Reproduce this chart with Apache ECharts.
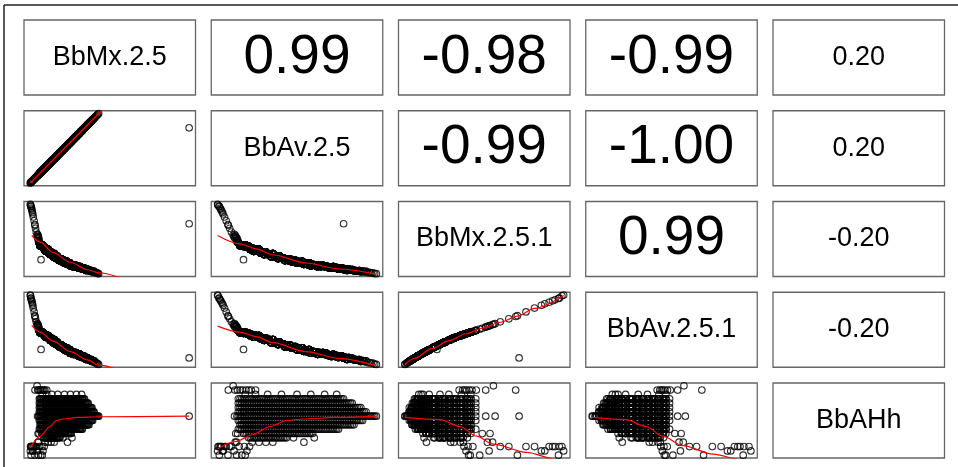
<!DOCTYPE html>
<html><head><meta charset="utf-8">
<script src="https://cdn.jsdelivr.net/npm/echarts@6/dist/echarts.min.js"></script>
<style>html,body{margin:0;padding:0;background:#fff}#c{width:958px;height:467px}</style>
</head><body><div id="c"></div>
<script>
// ---- data (arbitrary units) ----
const varNames = ['BbMx.2.5','BbAv.2.5','BbMx.2.5.1','BbAv.2.5.1','BbAHh'];
const corrKeys  = ['0,1','0,2','0,3','0,4','1,2','1,3','1,4','2,3','2,4','3,4'];
const corrTexts = ['0.99','-0.98','-0.99','0.20','-0.99','-1.00','0.20','0.99','-0.20','-0.20'];

const bbMx25 = [
9.6,10.5,11.3,12.2,13.0,13.9,14.8,15.6,16.5,17.3, 18.2,19.1,19.9,20.8,21.6,22.5,23.4,24.2,25.1,25.9, 26.8,27.7,28.5,29.4,30.2,31.1,32.0,32.8,33.7,34.5, 35.4,
9.2,10.0,10.9,11.7,12.6,13.5,14.3,15.2,16.0,16.9, 17.8,18.6,19.5,20.3,21.2,22.1,22.9,23.8,24.6,25.5, 26.4,27.2,28.1,28.9,29.8,30.7,31.5,32.4,33.2,34.1, 35.0,35.8,36.7,37.5,
9.6,10.5,11.3,12.2,13.0,13.9,14.8,15.6,16.5,17.3, 18.2,19.1,19.9,20.8,21.6,22.5,23.4,24.2,25.1,25.9, 26.8,27.7,28.5,29.4,30.2,31.1,32.0,32.8,33.7,34.5, 35.4,36.3,37.1,38.0,38.8,39.7,
9.2,10.0,10.9,11.7,12.6,13.5,14.3,15.2,16.0,16.9, 17.8,18.6,19.5,20.3,21.2,22.1,22.9,23.8,24.6,25.5, 26.4,27.2,28.1,28.9,29.8,30.7,31.5,32.4,33.2,34.1, 35.0,35.8,36.7,37.5,38.4,39.3,40.1,41.0,
9.6,10.5,11.3,12.2,13.0,13.9,14.8,15.6,16.5,17.3, 18.2,19.1,19.9,20.8,21.6,22.5,23.4,24.2,25.1,25.9, 26.8,27.7,28.5,29.4,30.2,31.1,32.0,32.8,33.7,34.5, 35.4,36.3,37.1,38.0,38.8,39.7,40.6,41.4,42.3,43.1, 43.6,
9.2,10.0,10.9,11.7,12.6,13.5,14.3,15.2,16.0,16.9, 17.8,18.6,19.5,20.3,21.2,22.1,22.9,23.8,24.6,25.5, 26.4,27.2,28.1,28.9,29.8,30.7,31.5,32.4,33.2,34.1, 35.0,35.8,36.7,37.5,38.4,39.3,40.1,
9.6,10.5,11.3,12.2,13.0,13.9,14.8,15.6,16.5,17.3, 18.2,19.1,19.9,20.8,21.6,22.5,23.4,24.2,25.1,25.9, 26.8,27.7,28.5,29.4,30.2,31.1,32.0,32.8,33.7,34.5, 35.4,36.3,37.1,38.0,
9.2,10.0,10.9,11.7,12.6,13.5,14.3,15.2,16.0,16.9, 17.8,18.6,19.5,20.3,21.2,22.1,22.9,23.8,24.6,25.5, 26.4,27.2,28.1,28.9,29.8,30.7,31.5,32.4,33.2,34.1,
10.5,11.3,12.2,13.0,13.9,14.8,15.6,16.5,17.3, 18.2,19.1,19.9,20.8,21.6,22.5,23.4,24.2,25.1,25.9, 26.8,27.7,
11.7,12.6,13.5,14.3,15.2,16.0,16.9, 17.8,18.6,19.5,20.3,21.2, 22.9,28.1,
12.6,14.3,16.0,17.8,25.5,
10.9,13.5,16.5,19.9,23.8,27.2,30.7,33.7,
6.7,7.9,8.3,8.9,9.6,10.2,11.1,11.7,12.4,13.5,
4.1,4.4,4.6,5.0,5.4,5.7,6.2,6.6,7.4,8.1,8.7,9.4,10.0,10.7,11.3,12.0,10.9,
4.0,4.3,4.8,5.2,7.0,
8.2,8.8,8.5,9.0,8.4,8.7,
96,10.2,
9.2,10.0,10.9,11.7,12.6,13.5,14.3,15.2,16.0,16.9, 17.8,18.6,19.5,20.3,21.2,22.1,22.9,23.8,24.6,25.5, 26.4,27.2,28.1,28.9,29.8,30.7,31.5,32.4,33.2,34.1, 35.0,
9.6,10.5,11.3,12.2,13.0,13.9,14.8,15.6,16.5,17.3, 18.2,19.1,19.9,20.8,21.6,22.5,23.4,24.2,25.1,25.9, 26.8,27.7,28.5,29.4,30.2,31.1,32.0,32.8,33.7,34.5, 35.4,36.3,37.1,
9.2,10.0,10.9,11.7,12.6,13.5,14.3,15.2,16.0,16.9, 17.8,18.6,19.5,20.3,21.2,22.1,22.9,23.8,24.6,25.5, 26.4,27.2,28.1,28.9,29.8,30.7,31.5,32.4,33.2,34.1, 35.0,35.8,36.7,37.5,38.4,39.3,
9.6,10.5,11.3,12.2,13.0,13.9,14.8,15.6,16.5,17.3, 18.2,19.1,19.9,20.8,21.6,22.5,23.4,24.2,25.1,25.9, 26.8,27.7,28.5,29.4,30.2,31.1,32.0,32.8,33.7,34.5, 35.4,36.3,37.1,38.0,38.8,39.7,40.6,
9.2,10.0,10.9,11.7,12.6,13.5,14.3,15.2,16.0,16.9, 17.8,18.6,19.5,20.3,21.2,22.1,22.9,23.8,24.6,25.5, 26.4,27.2,28.1,28.9,29.8,30.7,31.5,32.4,33.2,34.1, 35.0,35.8,36.7,37.5,38.4,39.3,40.1,41.0,41.8,42.7,
9.6,10.5,11.3,12.2,13.0,13.9,14.8,15.6,16.5,17.3, 18.2,19.1,19.9,20.8,21.6,22.5,23.4,24.2,25.1,25.9, 26.8,27.7,28.5,29.4,30.2,31.1,32.0,32.8,33.7,34.5, 35.4,36.3,37.1,38.0,38.8,39.7,
10.0,10.9,11.7,12.6,13.5,14.3,15.2,16.0,16.9, 17.8,18.6,19.5,20.3,21.2,22.1,22.9,23.8,24.6,25.5, 26.4,27.2,28.1,28.9,29.8,30.7,31.5,32.4,33.2,34.1, 35.0,35.8,36.7,37.5,
9.6,10.5,11.3,12.2,13.0,13.9,14.8,15.6,16.5,17.3, 18.2,19.1,19.9,20.8,21.6,22.5,23.4,24.2,25.1,25.9, 26.8,27.7,28.5,29.4,30.2,31.1,32.0,32.8,33.7,
10.9,11.7,12.6,13.5,14.3,15.2,16.0,16.9, 17.8,18.6,19.5,20.3,21.2,22.1,22.9,23.8,24.6,25.5, 26.4,27.2,
12.2,13.0,13.9,14.8,15.6,16.5,17.3, 18.2,19.1,19.9,20.8];

const bbAv25 = [
17,19,21,23,25,27,29,31,33,35, 37,39,41,43,45,47,49,51,53,55, 57,59,61,63,65,67,69,71,73,75, 77,
16,18,20,22,24,26,28,30,32,34, 36,38,40,42,44,46,48,50,52,54, 56,58,60,62,64,66,68,70,72,74, 76,78,80,82,
17,19,21,23,25,27,29,31,33,35, 37,39,41,43,45,47,49,51,53,55, 57,59,61,63,65,67,69,71,73,75, 77,79,81,83,85,87,
16,18,20,22,24,26,28,30,32,34, 36,38,40,42,44,46,48,50,52,54, 56,58,60,62,64,66,68,70,72,74, 76,78,80,82,84,86,88,90,
17,19,21,23,25,27,29,31,33,35, 37,39,41,43,45,47,49,51,53,55, 57,59,61,63,65,67,69,71,73,75, 77,79,81,83,85,87,89,91,93,95, 96,
16,18,20,22,24,26,28,30,32,34, 36,38,40,42,44,46,48,50,52,54, 56,58,60,62,64,66,68,70,72,74, 76,78,80,82,84,86,88,
17,19,21,23,25,27,29,31,33,35, 37,39,41,43,45,47,49,51,53,55, 57,59,61,63,65,67,69,71,73,75, 77,79,81,83,
16,18,20,22,24,26,28,30,32,34, 36,38,40,42,44,46,48,50,52,54, 56,58,60,62,64,66,68,70,72,74,
19,21,23,25,27,29,31,33,35, 37,39,41,43,45,47,49,51,53,55, 57,59,
22,24,26,28,30,32,34, 36,38,40,42,44, 48,60,
24,28,32,36,54,
20,26,33,41,50,58,66,73,
10.2,13.0,14.0,15.5,17.0,18.5,20.5,22.0,23.5,26.0,
4.2,5.0,5.5,6.3,7.2,8.0,9.0,10.0,12.0,13.5,15.0,16.5,18.0,19.5,21.0,22.5,20.0,
4.0,4.8,5.8,6.8,11.0,
13.8,15.2,14.5,15.6,14.2,15.0,
77,19,
16,18,20,22,24,26,28,30,32,34, 36,38,40,42,44,46,48,50,52,54, 56,58,60,62,64,66,68,70,72,74, 76,
17,19,21,23,25,27,29,31,33,35, 37,39,41,43,45,47,49,51,53,55, 57,59,61,63,65,67,69,71,73,75, 77,79,81,
16,18,20,22,24,26,28,30,32,34, 36,38,40,42,44,46,48,50,52,54, 56,58,60,62,64,66,68,70,72,74, 76,78,80,82,84,86,
17,19,21,23,25,27,29,31,33,35, 37,39,41,43,45,47,49,51,53,55, 57,59,61,63,65,67,69,71,73,75, 77,79,81,83,85,87,89,
16,18,20,22,24,26,28,30,32,34, 36,38,40,42,44,46,48,50,52,54, 56,58,60,62,64,66,68,70,72,74, 76,78,80,82,84,86,88,90,92,94,
17,19,21,23,25,27,29,31,33,35, 37,39,41,43,45,47,49,51,53,55, 57,59,61,63,65,67,69,71,73,75, 77,79,81,83,85,87,
18,20,22,24,26,28,30,32,34, 36,38,40,42,44,46,48,50,52,54, 56,58,60,62,64,66,68,70,72,74, 76,78,80,82,
17,19,21,23,25,27,29,31,33,35, 37,39,41,43,45,47,49,51,53,55, 57,59,61,63,65,67,69,71,73,
20,22,24,26,28,30,32,34, 36,38,40,42,44,46,48,50,52,54, 56,58,
23,25,27,29,31,33,35, 37,39,41,43];

const bbMx251 = [
41.7,40.8,39.8,36.6,34.2,34.4,32.0,29.9,30.0,26.8, 26.4,24.5,24.8,21.8,21.8,20.4,22.0,20.4,20.7,18.3, 18.7,16.9,16.3,15.5,15.5,14.6,13.3,13.8,12.4,11.3, 9.9,
45.7,42.9,42.8,40.8,38.4,37.3,36.7,33.1,33.0,30.8, 31.0,27.5,27.7,25.4,23.8,23.9,21.1,18.5,18.5,16.9, 16.5,14.9,15.5,13.7,13.9,13.8,12.5,11.6,11.7,10.5, 12.0,10.7,10.5,9.7,
41.7,40.8,39.8,36.6,34.2,34.4,32.0,29.9,30.0,26.8, 26.4,24.5,24.8,21.8,21.8,20.4,22.0,20.4,20.7,18.3, 18.7,16.9,16.3,15.5,15.5,14.6,13.3,13.8,12.4,11.3, 9.9,8.7,9.3,8.4,7.9,6.9,
45.7,42.9,42.8,40.8,38.4,37.3,36.7,33.1,33.0,30.8, 31.0,27.5,27.7,25.4,23.8,23.9,21.1,18.5,18.5,16.9, 16.5,14.9,15.5,13.7,13.9,13.8,12.5,11.6,11.7,10.5, 12.0,10.7,10.5,9.7,8.5,8.4,7.7,7.3,
41.7,40.8,39.8,36.6,34.2,34.4,32.0,29.9,30.0,26.8, 26.4,24.5,24.8,21.8,21.8,20.4,22.0,20.4,20.7,18.3, 18.7,16.9,16.3,15.5,15.5,14.6,13.3,13.8,12.4,11.3, 9.9,8.7,9.3,8.4,7.9,6.9,6.8,5.8,5.4,4.5, 4.3,
45.7,42.9,42.8,40.8,38.4,37.3,36.7,33.1,33.0,30.8, 31.0,27.5,27.7,25.4,23.8,23.9,21.1,18.5,18.5,16.9, 16.5,14.9,15.5,13.7,13.9,13.8,12.5,11.6,11.7,10.5, 12.0,10.7,10.5,9.7,8.5,8.4,7.7,
41.7,40.8,39.8,36.6,34.2,34.4,32.0,29.9,30.0,26.8, 26.4,24.5,24.8,21.8,21.8,20.4,22.0,20.4,20.7,18.3, 18.7,16.9,16.3,15.5,15.5,14.6,13.3,13.8,12.4,11.3, 9.9,8.7,9.3,8.4,
45.7,42.9,42.8,40.8,38.4,37.3,36.7,33.1,33.0,30.8, 31.0,27.5,27.7,25.4,23.8,23.9,21.1,18.5,18.5,16.9, 16.5,14.9,15.5,13.7,13.9,13.8,12.5,11.6,11.7,10.5,
40.8,39.8,36.6,34.2,34.4,32.0,29.9,30.0,26.8, 26.4,24.5,24.8,21.8,21.8,20.4,22.0,20.4,20.7,18.3, 18.7,16.9,
40.8,38.4,37.3,36.7,33.1,33.0,30.8, 31.0,27.5,27.7,25.4,23.8, 21.1,15.5,
38.4,36.7,33.0,31.0,16.9,
42.8,37.3,30.0,24.8,18.5,14.9,13.8,12.4,
69,56,51.5,46,43.5,42,40.4,39.2,38,36,
96,94,92,88.5,84,80,75,70,60,53.5,48,44,42.5,41.2,40.0,38.8,41.5,
97,94.5,90.5,86,65,
57,51.5,54,49.5,55.5,52.5,
71,23,
45.7,42.9,42.8,40.8,38.4,37.3,36.7,33.1,33.0,30.8, 31.0,27.5,27.7,25.4,23.8,23.9,21.1,18.5,18.5,16.9, 16.5,14.9,15.5,13.7,13.9,13.8,12.5,11.6,11.7,10.5, 12.0,
41.7,40.8,39.8,36.6,34.2,34.4,32.0,29.9,30.0,26.8, 26.4,24.5,24.8,21.8,21.8,20.4,22.0,20.4,20.7,18.3, 18.7,16.9,16.3,15.5,15.5,14.6,13.3,13.8,12.4,11.3, 9.9,8.7,9.3,
45.7,42.9,42.8,40.8,38.4,37.3,36.7,33.1,33.0,30.8, 31.0,27.5,27.7,25.4,23.8,23.9,21.1,18.5,18.5,16.9, 16.5,14.9,15.5,13.7,13.9,13.8,12.5,11.6,11.7,10.5, 12.0,10.7,10.5,9.7,8.5,8.4,
41.7,40.8,39.8,36.6,34.2,34.4,32.0,29.9,30.0,26.8, 26.4,24.5,24.8,21.8,21.8,20.4,22.0,20.4,20.7,18.3, 18.7,16.9,16.3,15.5,15.5,14.6,13.3,13.8,12.4,11.3, 9.9,8.7,9.3,8.4,7.9,6.9,6.8,
45.7,42.9,42.8,40.8,38.4,37.3,36.7,33.1,33.0,30.8, 31.0,27.5,27.7,25.4,23.8,23.9,21.1,18.5,18.5,16.9, 16.5,14.9,15.5,13.7,13.9,13.8,12.5,11.6,11.7,10.5, 12.0,10.7,10.5,9.7,8.5,8.4,7.7,7.3,6.0,5.5,
41.7,40.8,39.8,36.6,34.2,34.4,32.0,29.9,30.0,26.8, 26.4,24.5,24.8,21.8,21.8,20.4,22.0,20.4,20.7,18.3, 18.7,16.9,16.3,15.5,15.5,14.6,13.3,13.8,12.4,11.3, 9.9,8.7,9.3,8.4,7.9,6.9,
42.9,42.8,40.8,38.4,37.3,36.7,33.1,33.0,30.8, 31.0,27.5,27.7,25.4,23.8,23.9,21.1,18.5,18.5,16.9, 16.5,14.9,15.5,13.7,13.9,13.8,12.5,11.6,11.7,10.5, 12.0,10.7,10.5,9.7,
41.7,40.8,39.8,36.6,34.2,34.4,32.0,29.9,30.0,26.8, 26.4,24.5,24.8,21.8,21.8,20.4,22.0,20.4,20.7,18.3, 18.7,16.9,16.3,15.5,15.5,14.6,13.3,13.8,12.4,
42.8,40.8,38.4,37.3,36.7,33.1,33.0,30.8, 31.0,27.5,27.7,25.4,23.8,23.9,21.1,18.5,18.5,16.9, 16.5,14.9,
36.6,34.2,34.4,32.0,29.9,30.0,26.8, 26.4,24.5,24.8,21.8];

const bbAv251 = [
47.8,47.1,46.4,43.9,42.0,42.1,40.0,37.9,38.0,34.8, 34.4,32.4,32.7,29.4,29.4,27.8,29.6,27.8,28.1,25.3, 25.7,23.6,22.9,21.9,21.9,20.8,19.1,19.7,17.9,16.5, 14.7,
50.6,48.6,48.5,47.1,45.3,44.5,44.0,41.0,40.9,38.8, 39.0,35.5,35.7,33.3,31.6,31.7,28.6,25.5,25.5,23.6, 23.1,21.2,21.9,19.6,19.9,19.7,18.1,16.9,17.0,15.5, 17.4,15.7,15.5,14.4,
47.8,47.1,46.4,43.9,42.0,42.1,40.0,37.9,38.0,34.8, 34.4,32.4,32.7,29.4,29.4,27.8,29.6,27.8,28.1,25.3, 25.7,23.6,22.9,21.9,21.9,20.8,19.1,19.7,17.9,16.5, 14.7,13.0,13.8,12.6,11.9,10.4,
50.6,48.6,48.5,47.1,45.3,44.5,44.0,41.0,40.9,38.8, 39.0,35.5,35.7,33.3,31.6,31.7,28.6,25.5,25.5,23.6, 23.1,21.2,21.9,19.6,19.9,19.7,18.1,16.9,17.0,15.5, 17.4,15.7,15.5,14.4,12.7,12.6,11.6,11.0,
47.8,47.1,46.4,43.9,42.0,42.1,40.0,37.9,38.0,34.8, 34.4,32.4,32.7,29.4,29.4,27.8,29.6,27.8,28.1,25.3, 25.7,23.6,22.9,21.9,21.9,20.8,19.1,19.7,17.9,16.5, 14.7,13.0,13.8,12.6,11.9,10.4,10.2,8.7,8.1,6.8, 6.4,
50.6,48.6,48.5,47.1,45.3,44.5,44.0,41.0,40.9,38.8, 39.0,35.5,35.7,33.3,31.6,31.7,28.6,25.5,25.5,23.6, 23.1,21.2,21.9,19.6,19.9,19.7,18.1,16.9,17.0,15.5, 17.4,15.7,15.5,14.4,12.7,12.6,11.6,
47.8,47.1,46.4,43.9,42.0,42.1,40.0,37.9,38.0,34.8, 34.4,32.4,32.7,29.4,29.4,27.8,29.6,27.8,28.1,25.3, 25.7,23.6,22.9,21.9,21.9,20.8,19.1,19.7,17.9,16.5, 14.7,13.0,13.8,12.6,
50.6,48.6,48.5,47.1,45.3,44.5,44.0,41.0,40.9,38.8, 39.0,35.5,35.7,33.3,31.6,31.7,28.6,25.5,25.5,23.6, 23.1,21.2,21.9,19.6,19.9,19.7,18.1,16.9,17.0,15.5,
47.1,46.4,43.9,42.0,42.1,40.0,37.9,38.0,34.8, 34.4,32.4,32.7,29.4,29.4,27.8,29.6,27.8,28.1,25.3, 25.7,23.6,
47.1,45.3,44.5,44.0,41.0,40.9,38.8, 39.0,35.5,35.7,33.3,31.6, 28.6,21.9,
45.3,44.0,40.9,39.0,23.6,
48.5,44.5,38.0,32.7,25.5,21.2,19.7,17.9,
69,58.8,55.2,51,49.4,48,46.8,45.9,45,43.5,
95.9,92.6,90.8,87.6,83.6,80,75,70,62,56.8,52.5,49.3,48.4,47.4,46.5,45.6,47.6,
97,93,89.5,85.5,66,
59.6,55.2,57.2,53.6,58.4,56.0,
15,26,
50.6,48.6,48.5,47.1,45.3,44.5,44.0,41.0,40.9,38.8, 39.0,35.5,35.7,33.3,31.6,31.7,28.6,25.5,25.5,23.6, 23.1,21.2,21.9,19.6,19.9,19.7,18.1,16.9,17.0,15.5, 17.4,
47.8,47.1,46.4,43.9,42.0,42.1,40.0,37.9,38.0,34.8, 34.4,32.4,32.7,29.4,29.4,27.8,29.6,27.8,28.1,25.3, 25.7,23.6,22.9,21.9,21.9,20.8,19.1,19.7,17.9,16.5, 14.7,13.0,13.8,
50.6,48.6,48.5,47.1,45.3,44.5,44.0,41.0,40.9,38.8, 39.0,35.5,35.7,33.3,31.6,31.7,28.6,25.5,25.5,23.6, 23.1,21.2,21.9,19.6,19.9,19.7,18.1,16.9,17.0,15.5, 17.4,15.7,15.5,14.4,12.7,12.6,
47.8,47.1,46.4,43.9,42.0,42.1,40.0,37.9,38.0,34.8, 34.4,32.4,32.7,29.4,29.4,27.8,29.6,27.8,28.1,25.3, 25.7,23.6,22.9,21.9,21.9,20.8,19.1,19.7,17.9,16.5, 14.7,13.0,13.8,12.6,11.9,10.4,10.2,
50.6,48.6,48.5,47.1,45.3,44.5,44.0,41.0,40.9,38.8, 39.0,35.5,35.7,33.3,31.6,31.7,28.6,25.5,25.5,23.6, 23.1,21.2,21.9,19.6,19.9,19.7,18.1,16.9,17.0,15.5, 17.4,15.7,15.5,14.4,12.7,12.6,11.6,11.0,9.0,8.3,
47.8,47.1,46.4,43.9,42.0,42.1,40.0,37.9,38.0,34.8, 34.4,32.4,32.7,29.4,29.4,27.8,29.6,27.8,28.1,25.3, 25.7,23.6,22.9,21.9,21.9,20.8,19.1,19.7,17.9,16.5, 14.7,13.0,13.8,12.6,11.9,10.4,
48.6,48.5,47.1,45.3,44.5,44.0,41.0,40.9,38.8, 39.0,35.5,35.7,33.3,31.6,31.7,28.6,25.5,25.5,23.6, 23.1,21.2,21.9,19.6,19.9,19.7,18.1,16.9,17.0,15.5, 17.4,15.7,15.5,14.4,
47.8,47.1,46.4,43.9,42.0,42.1,40.0,37.9,38.0,34.8, 34.4,32.4,32.7,29.4,29.4,27.8,29.6,27.8,28.1,25.3, 25.7,23.6,22.9,21.9,21.9,20.8,19.1,19.7,17.9,
48.5,47.1,45.3,44.5,44.0,41.0,40.9,38.8, 39.0,35.5,35.7,33.3,31.6,31.7,28.6,25.5,25.5,23.6, 23.1,21.2,
43.9,42.0,42.1,40.0,37.9,38.0,34.8, 34.4,32.4,32.7,29.4];

const bbAHh = [
6.5,6.5,6.5,6.5,6.5,6.5,6.5,6.5,6.5,6.5, 6.5,6.5,6.5,6.5,6.5,6.5,6.5,6.5,6.5,6.5, 6.5,6.5,6.5,6.5,6.5,6.5,6.5,6.5,6.5,6.5, 6.5,
6,6,6,6,6,6,6,6,6,6, 6,6,6,6,6,6,6,6,6,6, 6,6,6,6,6,6,6,6,6,6, 6,6,6,6,
5.5,5.5,5.5,5.5,5.5,5.5,5.5,5.5,5.5,5.5, 5.5,5.5,5.5,5.5,5.5,5.5,5.5,5.5,5.5,5.5, 5.5,5.5,5.5,5.5,5.5,5.5,5.5,5.5,5.5,5.5, 5.5,5.5,5.5,5.5,5.5,5.5,
5,5,5,5,5,5,5,5,5,5, 5,5,5,5,5,5,5,5,5,5, 5,5,5,5,5,5,5,5,5,5, 5,5,5,5,5,5,5,5,
4.5,4.5,4.5,4.5,4.5,4.5,4.5,4.5,4.5,4.5, 4.5,4.5,4.5,4.5,4.5,4.5,4.5,4.5,4.5,4.5, 4.5,4.5,4.5,4.5,4.5,4.5,4.5,4.5,4.5,4.5, 4.5,4.5,4.5,4.5,4.5,4.5,4.5,4.5,4.5,4.5, 4.5,
4,4,4,4,4,4,4,4,4,4, 4,4,4,4,4,4,4,4,4,4, 4,4,4,4,4,4,4,4,4,4, 4,4,4,4,4,4,4,
3.5,3.5,3.5,3.5,3.5,3.5,3.5,3.5,3.5,3.5, 3.5,3.5,3.5,3.5,3.5,3.5,3.5,3.5,3.5,3.5, 3.5,3.5,3.5,3.5,3.5,3.5,3.5,3.5,3.5,3.5, 3.5,3.5,3.5,3.5,
3,3,3,3,3,3,3,3,3,3, 3,3,3,3,3,3,3,3,3,3, 3,3,3,3,3,3,3,3,3,3,
2.5,2.5,2.5,2.5,2.5,2.5,2.5,2.5,2.5, 2.5,2.5,2.5,2.5,2.5,2.5,2.5,2.5,2.5,2.5, 2.5,2.5,
2,2,2,2,2,2,2, 2,2,2,2,2, 2,2,
1.5,1.5,1.5,1.5,1.5,
7,7,7,7,7,7,7,7,
7.5,8,7.5,7.5,7.5,7.5,7.5,7.5,7.5,7.5,
1,0,1,1,0.5,1,1,0,1,0.5,0,1,0,1,0.5,1,0,
0.5,1,1,0.5,1,
4.5,4.5,2.5,2.5,1.5,1.5,
4.5,5,
6.5,6.5,6.5,6.5,6.5,6.5,6.5,6.5,6.5,6.5, 6.5,6.5,6.5,6.5,6.5,6.5,6.5,6.5,6.5,6.5, 6.5,6.5,6.5,6.5,6.5,6.5,6.5,6.5,6.5,6.5, 6.5,
6,6,6,6,6,6,6,6,6,6, 6,6,6,6,6,6,6,6,6,6, 6,6,6,6,6,6,6,6,6,6, 6,6,6,
5.5,5.5,5.5,5.5,5.5,5.5,5.5,5.5,5.5,5.5, 5.5,5.5,5.5,5.5,5.5,5.5,5.5,5.5,5.5,5.5, 5.5,5.5,5.5,5.5,5.5,5.5,5.5,5.5,5.5,5.5, 5.5,5.5,5.5,5.5,5.5,5.5,
5,5,5,5,5,5,5,5,5,5, 5,5,5,5,5,5,5,5,5,5, 5,5,5,5,5,5,5,5,5,5, 5,5,5,5,5,5,5,
4.5,4.5,4.5,4.5,4.5,4.5,4.5,4.5,4.5,4.5, 4.5,4.5,4.5,4.5,4.5,4.5,4.5,4.5,4.5,4.5, 4.5,4.5,4.5,4.5,4.5,4.5,4.5,4.5,4.5,4.5, 4.5,4.5,4.5,4.5,4.5,4.5,4.5,4.5,4.5,4.5,
4,4,4,4,4,4,4,4,4,4, 4,4,4,4,4,4,4,4,4,4, 4,4,4,4,4,4,4,4,4,4, 4,4,4,4,4,4,
3.5,3.5,3.5,3.5,3.5,3.5,3.5,3.5,3.5, 3.5,3.5,3.5,3.5,3.5,3.5,3.5,3.5,3.5,3.5, 3.5,3.5,3.5,3.5,3.5,3.5,3.5,3.5,3.5,3.5, 3.5,3.5,3.5,3.5,
3,3,3,3,3,3,3,3,3,3, 3,3,3,3,3,3,3,3,3,3, 3,3,3,3,3,3,3,3,3,
2.5,2.5,2.5,2.5,2.5,2.5,2.5,2.5, 2.5,2.5,2.5,2.5,2.5,2.5,2.5,2.5,2.5,2.5, 2.5,2.5,
2,2,2,2,2,2,2, 2,2,2,2];

// lowess smooth lines (x, y) for each lower panel: smooth<row><col>
const smooth10 = [[4,4],[43.6,96],[96,220]];
const smooth20 = [[4.8,55.3],[9.7,46.6],[17.2,32.6],[27.1,19.6],[37.1,9.6],[43.5,5.6],[96.4,-53.5]];
const smooth30 = [[4.8,57.5],[9.7,48.7],[17.2,36.9],[27.1,23.2],[37.1,12.4],[43.5,5.5],[96.4,-56.3]];
const smooth40 = [[4,0.85],[9.7,2.19],[15.4,3.31],[19.2,4.0],[23.2,4.17],[30.9,4.35],[43.6,4.43],[96,4.5]];
const smooth21 = [[4,55.3],[16.7,44.2],[26.4,37.6],[35.9,29.6],[55.2,18.6],[74.4,10.6],[96,3.6]];
const smooth31 = [[4,56.5],[16.7,48.7],[26.4,42.8],[35.9,34.9],[55.2,23.2],[74.4,14.3],[96,4.5]];
const smooth41 = [[4,0.75],[14.5,1.58],[24.2,2.36],[34.4,3.31],[44.0,4.0],[53.7,4.17],[72.9,4.35],[96,4.48]];
const smooth32 = [[4.3,6],[10,14.5],[20,27],[30,37.5],[40,46.5],[50,54],[60,61.5],[70,69.5],[80,79.5],[97,96.5]];
const smooth42 = [[4.3,4.35],[24.8,4.09],[36.5,3.31],[46.2,2.19],[55.9,1.28],[75.3,0.32],[92.7,-0.48],[97,-0.82]];
const smooth43 = [[6.4,4.35],[25.7,4.09],[37.2,3.31],[46.7,2.19],[58.2,1.11],[75.4,0.13],[90.8,-0.48],[97,-0.82]];

// ---- layout ----
const vars = [bbMx25, bbAv25, bbMx251, bbAv251, bbAHh];
const smooths = {'1,0':smooth10,'2,0':smooth20,'3,0':smooth30,'4,0':smooth40,'2,1':smooth21,'3,1':smooth31,'4,1':smooth41,'3,2':smooth32,'4,2':smooth42,'4,3':smooth43};
const colLeft = [24, 211.25, 398.5, 585.75, 773], panelW = 171.5;
const rowTop = [20, 110.75, 201.5, 292.25, 383], panelH = 75;
const FONT = '"Liberation Sans", Arial, Helvetica, sans-serif';
const N = Math.min(...vars.map(v=>v.length));

function ext(a){ let mn=Infinity,mx=-Infinity; a.forEach(v=>{if(v<mn)mn=v;if(v>mx)mx=v;}); const r=mx-mn; return [mn-0.04*r, mx+0.04*r]; }
const ranges = vars.map(ext);

const grid=[], xAxis=[], yAxis=[], series=[], graphic=[];
for(let i=0;i<5;i++){
  for(let j=0;j<5;j++){
    const k=i*5+j;
    grid.push({left:colLeft[j], top:rowTop[i], width:panelW, height:panelH, show:true, borderColor:'#666', borderWidth:1.3, backgroundColor:'transparent', containLabel:false});
    xAxis.push({type:'value', gridIndex:k, min:ranges[j][0], max:ranges[j][1], show:false});
    yAxis.push({type:'value', gridIndex:k, min:ranges[i][0], max:ranges[i][1], show:false});
    const cx = colLeft[j]+panelW/2, cy = rowTop[i]+panelH/2;
    if(i>j){
      const xs=vars[j], ys=vars[i], pts=[];
      for(let n=0;n<N;n++) pts.push([xs[n], ys[n]]);
      series.push({type:'scatter', xAxisIndex:k, yAxisIndex:k, symbol:'circle', symbolSize:6.6, silent:true, animation:false, large:false,
        itemStyle:{color:'rgba(0,0,0,0)', borderColor:'#000', borderWidth:1.1}, data: pts, clip:true});
      series.push({type:'line', xAxisIndex:k, yAxisIndex:k, showSymbol:false, silent:true, animation:false, clip:true,
        smooth:(i===1&&j===0)?false:0.3, smoothMonotone:'x', lineStyle:{color:'#ff0000', width:1.2}, data: smooths[i+','+j], z:5});
    } else if(i===j){
      graphic.push({type:'text', x:cx, y:cy, silent:true, style:{text:varNames[i], font:'27px '+FONT, fill:'#000', align:'center', verticalAlign:'middle', textAlign:'center', textVerticalAlign:'middle'}});
    } else {
      const t = corrTexts[corrKeys.indexOf(i+','+j)];
      const sz = Math.abs(parseFloat(t))>0.5 ? 55 : 27;
      graphic.push({type:'text', x:cx, y:cy, silent:true, style:{text:t, font:sz+'px '+FONT, fill:'#000', align:'center', verticalAlign:'middle', textAlign:'center', textVerticalAlign:'middle'}});
    }
  }
}
graphic.push({type:'line', silent:true, shape:{x1:4,y1:5,x2:958,y2:5}, style:{stroke:'#222', lineWidth:1.5}});
graphic.push({type:'line', silent:true, shape:{x1:4,y1:5,x2:4,y2:467}, style:{stroke:'#222', lineWidth:1.5}});

const chart = echarts.init(document.getElementById('c'), null, {renderer:'canvas'});
chart.setOption({backgroundColor:'#fff', animation:false, grid, xAxis, yAxis, series, graphic});
</script></body></html>
